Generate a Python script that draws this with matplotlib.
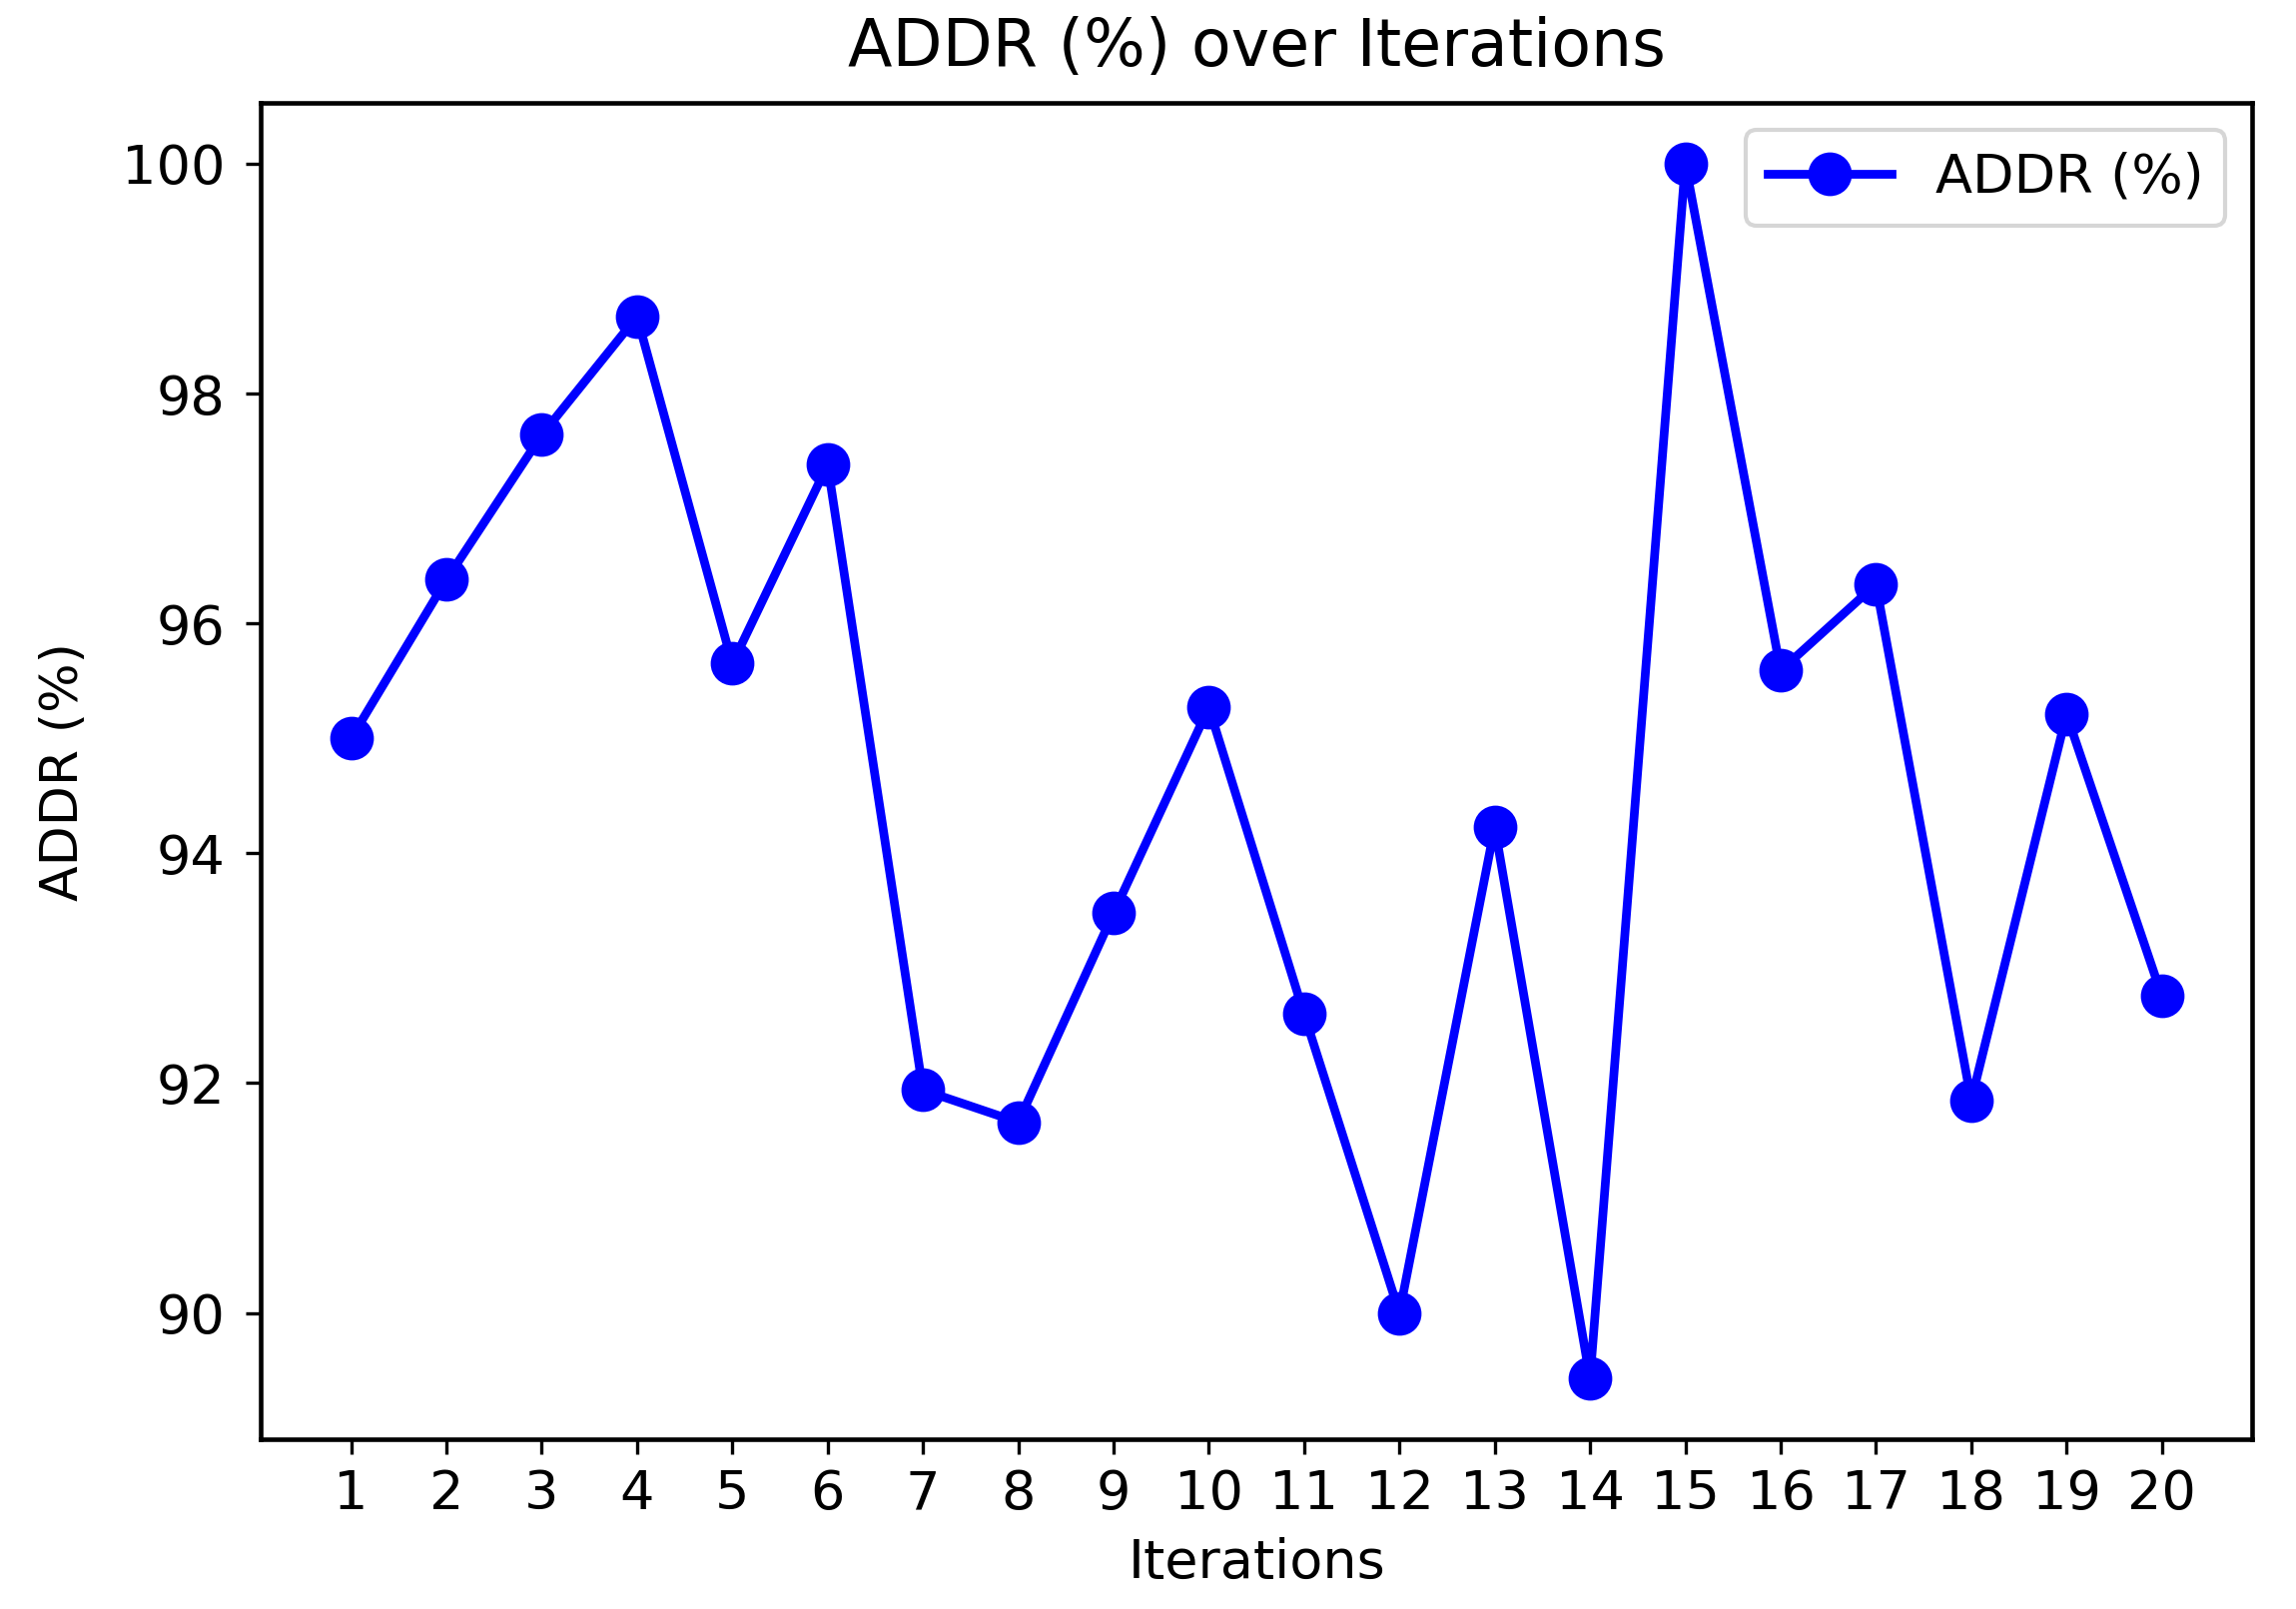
import matplotlib
matplotlib.use('Agg')
import matplotlib.pyplot as plt

iterations = list(range(1, 21))
addr = [95.0, 96.38, 97.64, 98.67, 95.65, 97.38, 91.94, 91.66, 93.48, 95.27,
        92.60, 90.0, 94.23, 89.43, 100.0, 95.59, 96.34, 91.85, 95.21, 92.76]

plt.rcParams['font.size'] = 13
plt.rcParams['axes.linewidth'] = 1.1

fig = plt.figure(figsize=(2299 / 300, 1611 / 300), dpi=300)
ax = fig.add_axes([0.1135, 0.1055, 0.8675, 0.8305])

ax.plot(iterations, addr, color='blue', marker='o', linewidth=2.1, markersize=9.5, label='ADDR (%)')
ax.set_xticks(iterations)
ax.tick_params(axis='y', pad=5)
ax.set_title('ADDR (%) over Iterations', fontsize=15.6, pad=9)
ax.set_xlabel('Iterations', labelpad=4)
ax.set_ylabel('ADDR (%)', fontsize=12.5, labelpad=8)
ax.legend(loc='upper right', handlelength=2.3)

fig.savefig('out.png', dpi=300)
